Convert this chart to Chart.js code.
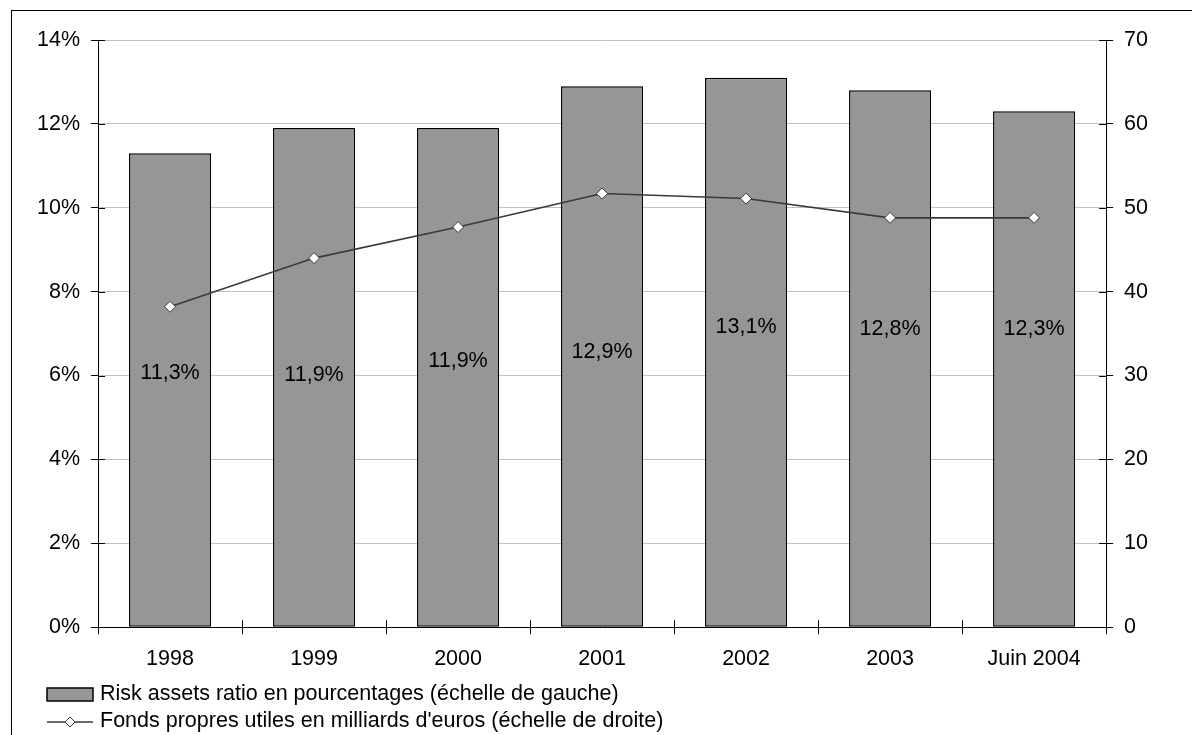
<!DOCTYPE html>
<html lang="fr">
<head>
<meta charset="utf-8">
<title>Risk assets ratio et fonds propres</title>
<script src="https://cdn.jsdelivr.net/npm/chart.js@4/dist/chart.umd.min.js"></script>
<style>
  html, body { margin: 0; padding: 0; background: #fff; overflow: hidden; }
  #wrap { position: relative; width: 1192px; height: 735px; }
  #frame { position: absolute; left: 11px; top: 10px; width: 1300px; height: 900px; border: 1px solid #000; box-sizing: border-box; pointer-events: none; }
  canvas { position: absolute; left: 0; top: 0; }
</style>
</head>
<body>
<div id="wrap">
  <canvas id="ratioChart" width="1192" height="735"></canvas>
  <div id="frame"></div>
</div>
<script>
// ===== data =====
const years = ['1998', '1999', '2000', '2001', '2002', '2003', 'Juin 2004'];
const riskAssetsRatio = [11.3, 11.9, 11.9, 12.9, 13.1, 12.8, 12.3];   // % (left axis)
const fondsPropres = [38.2, 44.0, 47.7, 51.7, 51.1, 48.8, 48.8];      // Md EUR (right axis)
const leftTicks = [0, 2, 4, 6, 8, 10, 12, 14];
const rightTicks = [0, 10, 20, 30, 40, 50, 60, 70];

const FONT = "'Liberation Sans', Arial, sans-serif";
const FSIZE = 21.5;
const fmtPct = v => v.toFixed(1).replace('.', ',') + '%';

// ===== value labels inside the bars =====
const barLabels = {
  id: 'barLabels',
  afterDatasetsDraw(chart, args, opts) {
    const ctx = chart.ctx;
    const meta = chart.getDatasetMeta(0);
    const y = chart.scales.y;
    ctx.save();
    ctx.font = FSIZE + 'px ' + FONT;
    ctx.fillStyle = '#000';
    ctx.textAlign = 'center';
    ctx.textBaseline = 'middle';
    meta.data.forEach((bar, i) => {
      ctx.fillText(fmtPct(riskAssetsRatio[i]), bar.x, y.getPixelForValue(opts.levels[i]));
    });
    ctx.restore();
  }
};

// ===== tick marks crossing the axes =====
const crossTicks = {
  id: 'crossTicks',
  afterDraw(chart) {
    const ctx = chart.ctx;
    const { y, y1 } = chart.scales;
    const area = chart.chartArea;
    ctx.save();
    ctx.strokeStyle = '#000';
    ctx.lineWidth = 1;
    ctx.beginPath();
    y.ticks.forEach(t => {
      const py = Math.round(y.getPixelForValue(t.value)) + 0.5;
      ctx.moveTo(area.left, py); ctx.lineTo(area.left + 7, py);
    });
    y1.ticks.forEach(t => {
      const py = Math.round(y1.getPixelForValue(t.value)) + 0.5;
      ctx.moveTo(area.right, py); ctx.lineTo(area.right - 7, py);
    });
    const w = (area.right - area.left) / years.length;
    for (let i = 0; i <= years.length; i++) {
      const px = Math.round(area.left + i * w) + 0.5;
      ctx.moveTo(px, area.bottom); ctx.lineTo(px, area.bottom - 7);
    }
    ctx.stroke();
    ctx.restore();
  }
};

// ===== legend below the axis =====
const sideLegend = {
  id: 'sideLegend',
  afterDraw(chart) {
    const ctx = chart.ctx;
    const bar = chart.data.datasets[0];
    const line = chart.data.datasets[1];
    ctx.save();
    // bar swatch
    ctx.fillStyle = bar.backgroundColor;
    ctx.fillRect(47, 688, 46, 13);
    ctx.strokeStyle = '#000';
    ctx.lineWidth = 1.5;
    ctx.strokeRect(47, 688, 46, 13);
    // line swatch with marker
    ctx.strokeStyle = line.borderColor;
    ctx.lineWidth = 1.5;
    ctx.beginPath();
    ctx.moveTo(47, 722); ctx.lineTo(93, 722);
    ctx.stroke();
    ctx.beginPath();
    ctx.moveTo(70, 717); ctx.lineTo(75, 722); ctx.lineTo(70, 727); ctx.lineTo(65, 722);
    ctx.closePath();
    ctx.fillStyle = '#fff';
    ctx.fill();
    ctx.lineWidth = 1;
    ctx.stroke();
    // text
    ctx.fillStyle = '#000';
    ctx.font = FSIZE + 'px ' + FONT;
    ctx.textAlign = 'left';
    ctx.textBaseline = 'middle';
    ctx.fillText(bar.label, 100, 694);
    ctx.fillText(line.label, 100, 721);
    ctx.restore();
  }
};

new Chart(document.getElementById('ratioChart'), {
  data: {
    labels: years,
    datasets: [
      {
        type: 'bar',
        label: 'Risk assets ratio en pourcentages (échelle de gauche)',
        data: riskAssetsRatio,
        yAxisID: 'y',
        backgroundColor: '#969696',
        borderColor: '#000',
        borderWidth: 1.5,
        borderSkipped: false,
        barPercentage: 0.57,
        categoryPercentage: 1,
        order: 2
      },
      {
        type: 'line',
        label: "Fonds propres utiles en milliards d'euros (échelle de droite)",
        data: fondsPropres,
        yAxisID: 'y1',
        borderColor: '#3a3a3a',
        borderWidth: 1.6,
        tension: 0,
        pointStyle: 'rectRot',
        pointRadius: 5.5,
        pointBackgroundColor: '#fff',
        pointBorderColor: '#3a3a3a',
        pointBorderWidth: 1,
        order: 1
      }
    ]
  },
  options: {
    responsive: false,
    animation: false,
    devicePixelRatio: 1,
    layout: { padding: { left: 26, right: 33, top: 40, bottom: 51 } },
    plugins: {
      legend: { display: false },
      tooltip: { enabled: false },
      barLabels: { levels: [6.05, 6.0, 6.35, 6.55, 7.15, 7.1, 7.1] }
    },
    scales: {
      x: {
        offset: true,
        grid: { display: true, offset: true, drawOnChartArea: false, tickLength: 7, color: '#000' },
        border: { color: '#000', width: 1 },
        ticks: { color: '#000', font: { family: FONT, size: FSIZE }, padding: 12, maxRotation: 0 }
      },
      y: {
        position: 'left',
        min: 0,
        max: 14,
        afterBuildTicks: s => { s.ticks = leftTicks.map(v => ({ value: v })); },
        grid: { color: '#c0c0c0', tickColor: '#000', tickLength: 7 },
        border: { color: '#000', width: 1 },
        ticks: { color: '#000', font: { family: FONT, size: FSIZE }, padding: 11, callback: v => v + '%' }
      },
      y1: {
        position: 'right',
        min: 0,
        max: 70,
        afterBuildTicks: s => { s.ticks = rightTicks.map(v => ({ value: v })); },
        grid: { drawOnChartArea: false, color: '#000', tickLength: 7 },
        border: { color: '#000', width: 1 },
        ticks: { color: '#000', font: { family: FONT, size: FSIZE }, padding: 11 }
      }
    }
  },
  plugins: [barLabels, crossTicks, sideLegend]
});
</script>
</body>
</html>
